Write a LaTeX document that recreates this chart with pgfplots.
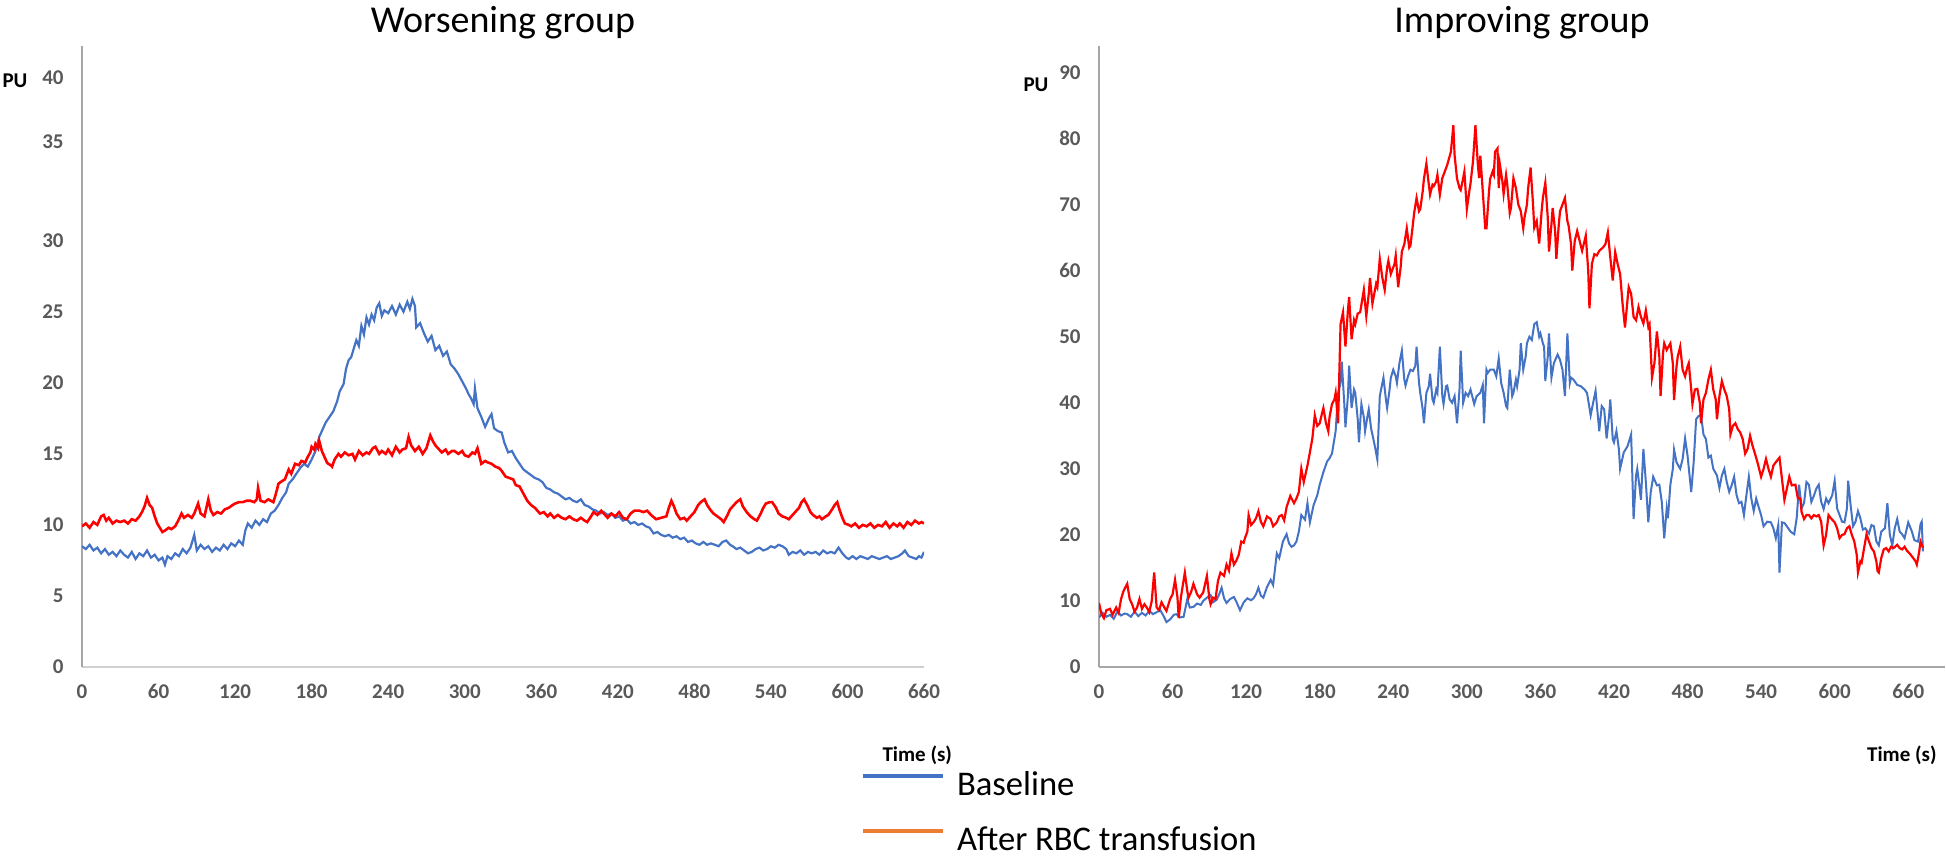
\documentclass[border=0pt]{standalone}
\usepackage{pgfplots}
\usepackage{pgfplotstable}
\pgfplotsset{compat=1.18}
\usepackage{fontspec}
\setmainfont{Carlito}
\definecolor{xblue}{HTML}{4472C4}
\definecolor{xred}{HTML}{FF0000}
\definecolor{xorange}{HTML}{ED7D31}
\definecolor{ticktext}{HTML}{595959}
\definecolor{axgray}{HTML}{A6A6A6}
\definecolor{axlight}{HTML}{D0D0D0}

\pgfplotstableread{
t v
0 8.5
3 8.3
6 8.6
9 8.2
12 8.4
15 8.0
18 8.3
21 7.9
24 8.1
27 7.8
30 8.2
33 7.9
36 7.7
39 8.1
42 7.6
45 8.0
48 7.8
51 8.2
54 7.7
57 7.9
60 7.5
63 7.7
65 7.2
67 7.8
70 7.6
73 8.0
76 7.8
79 8.3
82 8.0
85 8.4
88 9.3
90 8.2
93 8.6
96 8.3
99 8.5
102 8.1
105 8.4
108 8.2
111 8.6
114 8.3
117 8.7
120 8.5
123 8.9
126 8.6
128 9.6
130 10.1
133 9.8
136 10.3
139 10.0
142 10.4
145 10.2
148 10.8
151 11.0
154 11.4
157 11.9
160 12.3
162 12.9
165 13.2
168 13.6
171 14.0
174 14.3
177 14.1
180 14.6
183 15.2
186 16.2
188 16.6
191 17.2
194 17.6
197 18.0
200 18.7
202 19.4
205 19.9
207 21.0
209 21.6
211 21.8
213 22.4
215 23.0
217 22.6
219 24.0
221 23.4
223 24.6
225 24.1
227 24.8
229 24.4
231 25.3
233 25.6
235 24.7
237 25.1
240 24.9
243 25.4
246 24.8
249 25.5
252 25.0
255 25.7
257 25.2
259 25.9
261 25.4
262 23.9
265 24.2
268 23.5
271 22.9
274 23.3
277 22.3
280 22.6
283 21.9
286 22.2
289 21.3
292 21.0
295 20.6
298 20.1
301 19.6
303 19.2
305 18.9
307 18.5
308 19.6
310 18.2
313 17.6
316 16.9
319 17.5
321 17.8
323 16.8
326 16.6
329 16.5
331 15.8
334 15.1
337 15.2
340 14.7
343 14.3
346 13.9
349 13.7
352 13.5
355 13.3
358 13.2
361 13.0
364 12.6
367 12.5
370 12.3
373 12.2
376 12.0
379 11.8
382 11.9
385 11.7
388 11.6
391 11.8
394 11.4
397 11.3
400 11.1
403 11.0
406 10.8
409 10.9
412 10.7
415 10.8
418 10.5
421 10.6
424 10.3
427 10.4
430 10.1
433 10.2
436 10.0
439 10.1
442 9.9
445 9.8
448 9.4
451 9.5
454 9.3
457 9.2
460 9.3
463 9.1
466 9.2
469 9.0
472 9.1
475 8.8
478 8.9
481 8.7
484 8.6
487 8.8
490 8.6
493 8.7
496 8.6
499 8.5
502 8.8
505 8.9
508 8.6
510 8.5
513 8.3
516 8.4
519 8.2
522 8.0
525 8.1
528 8.3
531 8.4
534 8.2
537 8.3
540 8.5
543 8.4
546 8.6
549 8.5
552 8.3
554 7.9
557 8.1
560 8.0
563 8.2
566 7.9
569 8.1
572 8.0
575 8.1
578 7.9
581 8.2
584 8.0
587 8.1
590 8.0
593 8.4
596 8.0
599 7.7
601 7.6
604 7.8
607 7.6
610 7.8
613 7.7
616 7.6
619 7.8
622 7.7
625 7.6
628 7.7
631 7.8
634 7.6
637 7.7
640 7.8
643 8.0
645 8.2
648 7.8
651 7.7
654 7.6
656 7.8
658 7.7
660 8.1
}\LB

\pgfplotstableread{
t v
0 9.9
3 10.1
6 9.8
9 10.2
12 10.0
15 10.6
17 10.7
19 10.3
21 10.5
24 10.1
27 10.3
30 10.2
33 10.3
36 10.1
39 10.4
42 10.3
45 10.6
47 10.9
49 11.3
51 11.9
53 11.4
55 11.2
57 10.6
59 10.1
61 9.8
63 9.5
65 9.6
68 9.8
70 9.7
73 9.9
76 10.4
78 10.8
80 10.5
83 10.7
86 10.5
88 10.8
91 11.5
93 10.8
96 10.6
99 11.8
101 11.0
103 10.7
106 10.9
109 10.8
112 11.1
115 11.2
118 11.4
120 11.5
123 11.6
126 11.6
129 11.7
132 11.7
135 11.6
137 11.8
138 12.6
140 11.7
143 11.6
146 11.8
148 11.7
150 11.6
152 12.2
154 12.9
157 13.1
159 13.2
162 13.9
164 13.6
167 14.3
170 14.2
172 14.5
175 14.4
177 14.8
179 15.1
180 15.5
182 15.3
183 15.7
185 15.4
186 15.9
188 15.2
190 14.8
192 14.4
193 14.3
195 14.2
196 14.1
198 14.6
201 15.0
203 14.8
206 15.1
209 14.9
212 15.0
214 14.6
217 15.2
220 14.9
223 15.1
225 15.0
228 15.4
230 15.5
233 15.0
235 15.2
238 15.0
240 15.3
243 14.9
246 15.5
249 15.1
251 15.3
254 15.4
256 16.2
258 15.6
261 15.2
264 15.5
267 15.0
270 15.4
273 16.3
275 15.9
277 15.6
280 15.3
282 15.1
285 15.3
287 15.0
290 15.2
292 15.2
295 15.0
298 15.2
300 14.9
303 14.8
306 15.1
308 15.0
310 15.4
313 14.3
316 14.5
318 14.4
321 14.3
324 14.1
327 14.0
329 13.8
332 13.4
335 13.3
338 13.2
340 12.8
343 12.7
346 12.2
349 11.7
352 11.4
355 11.2
359 10.8
362 10.9
365 10.6
367 10.8
370 10.5
373 10.7
376 10.5
379 10.4
382 10.6
385 10.4
388 10.3
391 10.5
394 10.3
396 10.2
399 10.6
401 10.9
404 10.7
407 11.0
409 10.8
412 10.5
415 10.8
418 10.6
421 10.9
424 10.5
427 10.4
430 10.8
433 11.0
437 11.0
440 10.9
443 11.0
446 10.7
450 10.4
454 10.5
458 10.6
460 11.2
462 11.7
464 11.3
466 10.8
469 10.4
472 10.5
474 10.3
477 10.6
480 10.9
483 11.4
485 11.6
488 11.8
490 11.4
493 11.0
495 10.8
498 10.6
501 10.4
503 10.2
506 10.7
508 11.1
510 11.3
513 11.6
516 11.8
518 11.3
521 10.9
524 10.6
527 10.4
529 10.3
532 10.8
534 11.2
536 11.5
539 11.6
541 11.6
544 11.2
546 10.8
549 10.6
552 10.5
554 10.4
557 10.7
559 10.9
562 11.2
564 11.6
566 11.8
569 11.3
571 10.9
573 10.7
576 10.5
578 10.6
580 10.4
583 10.6
585 10.7
588 11.1
590 11.4
592 11.6
594 11.0
596 10.5
598 10.1
601 10.0
603 9.9
606 10.1
609 9.8
612 10.0
615 9.9
618 10.1
621 9.8
624 10.0
627 9.9
630 10.2
633 9.8
636 10.1
639 9.9
641 10.1
644 9.8
647 10.2
650 10.0
653 10.3
656 10.1
658 10.2
660 10.1
}\LR

\pgfplotstableread{
t v
0 7.5
3 8.2
6 7.6
9 7.9
12 7.3
15 8.4
18 7.8
21 8.1
23 8.0
26 7.6
29 8.4
32 7.7
35 8.2
38 7.8
41 8.5
44 8.0
47 8.3
50 8.6
53 7.6
55 6.8
58 7.2
61 7.9
63 8.0
66 7.5
69 7.6
72 10.3
74 9.0
77 9.1
80 9.6
83 9.4
85 10.0
88 10.5
91 10.9
93 9.8
96 10.2
98 11.0
100 12.0
102 10.4
104 9.7
107 10.3
110 10.6
112 9.9
115 8.6
118 9.8
121 10.4
124 10.1
126 10.4
128 11.0
130 12.0
132 10.8
134 10.5
137 12.1
140 13.2
142 12.4
145 17.2
147 16.5
150 19.0
153 20.1
155 18.7
157 18.2
159 18.4
161 19.0
163 20.5
165 23.0
168 22.3
170 24.8
172 21.9
175 24.5
178 26.0
180 27.6
183 29.5
186 31.1
188 31.6
190 32.3
193 35.7
195 41.5
197 43.0
198 46.2
200 40.0
201 36.3
203 41.0
204 45.6
206 39.2
208 42.0
209 41.5
211 37.5
212 34.0
214 39.8
216 37.8
217 35.7
219 38.0
220 39.0
222 36.0
223 35.2
225 33.4
227 31.4
229 41.0
232 43.8
234 40.5
235 39.2
237 42.0
238 43.8
240 45.0
242 44.0
243 43.0
245 46.0
247 47.9
249 43.5
250 42.6
252 44.0
254 45.0
256 44.8
258 45.6
259 48.5
261 43.0
262 41.5
264 39.0
265 36.9
267 41.5
269 42.5
270 44.4
272 40.5
273 40.0
275 42.0
276 41.5
278 48.5
280 41.0
281 39.8
283 42.5
284 42.6
286 40.5
288 40.0
290 41.0
292 36.9
294 42.0
295 47.9
297 40.0
299 41.5
301 41.0
303 42.0
306 39.8
308 41.0
311 41.5
313 42.7
314 36.9
316 45.0
317 44.5
319 45.0
322 45.0
324 44.0
326 46.7
328 43.0
330 41.5
332 39.5
333 39.2
335 45.0
337 41.0
338 41.5
340 43.5
341 42.5
343 45.0
344 49.0
346 45.0
348 47.0
349 49.0
351 50.0
353 49.5
355 51.9
357 52.2
359 50.0
360 50.5
362 49.0
363 48.5
364 43.3
366 47.0
367 50.5
369 43.8
371 46.0
374 47.3
376 46.5
378 45.0
380 41.0
382 50.5
384 43.0
385 43.8
387 43.5
390 42.7
393 42.5
396 42.0
398 41.5
401 38.1
403 40.0
405 41.8
408 35.7
410 39.5
412 39.0
414 34.6
416 38.0
417 40.5
419 34.5
420 34.0
422 35.7
424 33.0
425 30.0
428 32.5
431 33.4
434 35.2
436 22.4
438 29.0
439 30.0
441 27.0
442 25.3
444 33.0
446 28.0
448 21.9
450 26.5
452 28.8
455 27.5
457 27.6
459 25.0
461 19.5
463 24.0
464 22.5
466 27.6
468 30.0
469 32.9
471 31.0
474 30.0
476 31.5
478 34.6
480 32.0
483 26.5
485 31.0
487 37.5
489 38.0
491 38.1
493 35.2
495 34.5
497 31.7
499 32.0
501 30.0
504 29.0
506 27.1
508 29.0
510 30.0
512 28.0
514 26.5
516 27.5
518 28.8
520 26.0
522 24.8
524 25.0
526 23.0
528 26.0
530 28.8
532 25.5
534 23.6
536 25.5
538 24.2
540 23.0
542 21.3
545 22.0
548 21.9
550 21.0
552 19.5
554 21.5
555 14.3
557 21.9
559 21.8
561 21.3
564 20.5
567 20.1
569 22.5
571 27.6
573 24.0
575 24.8
577 28.0
579 27.6
581 25.0
583 25.9
585 27.0
587 27.6
589 25.0
591 23.9
593 25.5
595 24.8
598 26.0
600 28.2
602 24.0
604 23.0
606 22.0
608 21.9
610 24.0
611 28.2
613 24.5
615 21.3
617 22.0
619 23.6
621 22.5
623 20.8
625 21.0
628 20.2
630 21.5
632 21.3
634 19.0
636 18.4
638 20.5
641 21.0
643 24.8
645 20.0
647 18.4
649 21.0
651 22.4
653 20.5
655 20.1
657 19.5
660 21.9
663 20.5
665 19.2
668 19.0
670 21.6
671 22.0
672 17.5
}\RB

\pgfplotstableread{
t v
0 9.7
2 8.0
4 7.4
6 8.6
9 8.8
11 7.9
14 9.0
16 8.2
18 10.3
20 11.5
23 12.6
25 10.3
27 9.5
29 8.4
31 9.0
33 10.3
35 8.8
37 9.5
39 9.0
41 8.3
43 10.0
45 14.3
47 9.0
49 8.6
51 9.8
53 9.1
55 8.5
58 10.3
60 11.0
62 13.2
64 10.5
65 7.4
67 10.8
70 14.3
72 11.5
73 10.5
75 11.3
77 12.6
80 11.0
82 10.5
85 11.3
88 13.8
90 10.3
91 9.5
93 10.5
95 10.3
97 13.0
99 14.3
102 13.8
104 15.5
106 14.6
108 17.2
110 15.5
112 16.1
114 17.0
116 19.0
118 18.8
119 19.5
121 20.5
122 23.0
124 21.5
126 21.9
128 22.5
130 23.6
132 22.0
134 21.3
137 22.8
140 22.4
142 21.3
145 21.9
147 22.8
149 23.0
151 22.2
153 24.2
156 25.9
159 24.8
161 25.5
163 26.5
165 30.0
167 28.0
170 30.5
172 32.5
174 34.6
176 38.1
178 36.5
180 36.9
182 38.5
183 39.2
185 37.0
187 35.7
188 37.8
190 39.8
192 40.5
193 41.5
195 36.9
197 51.9
199 53.7
201 48.5
203 54.0
204 56.0
206 49.6
208 52.5
209 51.9
211 53.5
213 53.7
216 57.1
218 53.1
220 56.5
221 58.9
223 55.0
224 56.0
226 58.0
227 57.5
229 61.8
231 59.0
233 57.1
235 60.5
236 61.5
238 59.5
239 60.0
241 61.0
242 62.3
244 57.5
246 60.5
247 62.9
249 64.0
251 66.4
253 63.5
254 63.8
256 67.0
257 68.7
259 71.0
261 69.0
262 69.3
264 72.0
265 73.9
267 76.2
269 73.0
270 71.5
272 73.0
273 72.8
275 73.5
276 74.5
278 71.5
280 74.0
282 75.0
284 76.0
287 78.0
289 82.0
290 77.5
292 73.9
294 72.5
295 72.2
297 74.0
298 75.0
300 69.3
302 72.0
303 73.2
305 76.5
307 82.0
309 76.0
310 74.0
311 77.4
313 72.0
315 66.4
316 66.4
318 71.8
319 73.9
321 75.0
322 74.5
323 78.0
325 78.5
326 72.5
327 76.0
329 73.5
330 71.6
332 74.5
333 73.0
335 68.7
336 69.5
338 74.0
340 72.5
342 70.0
344 69.0
346 66.4
347 68.0
349 70.0
350 72.5
352 75.6
354 70.0
355 66.5
357 67.5
359 64.1
361 69.0
362 71.0
364 73.3
366 68.0
367 62.9
369 67.0
370 69.5
372 66.0
373 61.8
375 67.0
376 69.0
378 70.0
380 71.0
382 67.5
383 66.8
385 64.0
386 60.0
388 64.5
390 66.0
392 64.5
394 63.0
396 64.5
397 65.3
399 60.0
400 54.3
402 61.0
404 62.5
406 62.3
408 63.0
411 63.5
413 64.0
415 65.8
417 62.0
419 58.5
421 62.8
423 61.0
425 59.5
427 55.0
429 51.4
431 55.5
432 57.5
434 56.5
436 53.0
438 52.5
440 54.5
442 53.0
444 52.0
446 54.0
448 51.5
449 51.9
451 43.8
453 46.0
455 50.8
457 47.0
458 41.0
460 47.5
461 49.0
463 48.0
466 49.0
468 46.0
469 40.4
471 45.5
472 47.0
474 48.5
476 45.0
478 44.0
480 45.5
481 46.0
483 42.0
484 39.8
486 42.0
488 42.1
490 40.0
491 36.9
493 40.5
495 41.5
497 43.5
499 45.0
501 42.0
503 40.5
504 37.5
506 41.0
508 43.3
510 42.0
512 41.0
514 39.0
515 35.2
517 36.5
519 36.9
521 36.0
523 35.5
525 34.5
527 32.3
529 33.0
531 35.0
533 33.5
535 32.3
537 31.0
540 28.8
542 30.0
544 31.5
546 30.0
548 28.8
550 30.5
552 31.0
555 31.7
557 28.5
559 25.3
561 27.0
563 28.8
565 27.5
568 27.6
570 25.5
572 25.5
573 23.5
575 22.4
577 23.0
579 23.0
581 22.5
583 23.0
585 22.8
587 23.0
589 22.0
591 18.4
593 20.0
595 23.0
597 22.5
600 21.9
602 21.0
604 19.5
606 20.0
608 20.1
610 21.0
612 21.3
614 20.0
616 19.0
618 17.0
619 14.3
621 16.0
622 15.8
624 18.0
626 20.1
628 19.0
630 18.0
632 17.5
634 16.0
635 14.5
636 14.3
638 16.5
640 17.8
642 18.0
644 17.5
646 18.2
648 18.0
651 18.5
653 18.0
655 17.8
657 18.2
659 17.6
662 17.0
664 16.5
666 16.0
667 15.5
669 17.5
670 19.0
672 18.1
}\RR

\pgfplotsset{
  panel/.style={
    scale only axis, height=310.5pt, ymin=0,
    axis x line*=bottom, axis y line*=left,
    axis line style={-, line width=1.1pt},
    major tick length=0pt,
    tick label style={font=\bfseries\fontsize{10.5}{12}\selectfont, text=ticktext},
    /pgf/number format/assume math mode=true,
    xtick={0,60,...,660},
    xticklabel style={inner sep=0pt, yshift=-8.5pt},
    yticklabel style={inner sep=0pt, xshift=-9pt},
    title style={font=\fontsize{19}{22}\selectfont, at={(0.5,1.002)}, anchor=base},
    xlabel={Time (s)},
    ylabel={PU},
    xlabel style={font=\bfseries\fontsize{10.5}{12}\selectfont, anchor=center},
    ylabel style={font=\bfseries\fontsize{10.5}{12}\selectfont, rotate=-90, anchor=center},
  }
}

\begin{document}
\begin{tikzpicture}
\useasboundingbox (0pt,0pt) rectangle (973pt,429.5pt);
\begin{axis}[panel,
  at={(41pt,96pt)}, anchor=south west,
  width=421pt, xmin=0, xmax=660, ymax=43.7,
  ytick={0,5,10,15,20,25,30,37,41.5},
  yticklabels={0,5,10,15,20,25,30,35,40},
  x axis line style={draw=axlight},
  y axis line style={draw=axgray},
  title={Worsening group},
  xlabel style={at={(0.992,-0.1417)}},
  ylabel style={at={(-0.0796,0.9436)}},
  legend style={draw=none, fill=none, at={(0.9176,-0.163)}, anchor=north west,
    font=\fontsize{17.3}{20}\selectfont, row sep=16pt, column sep=0pt,
    nodes={inner sep=0pt, text height=11.5pt, text depth=0pt, anchor=west}},
  legend cell align=left,
  legend image code/.code={\draw[#1] (0pt,4pt) -- (40pt,4pt) (46pt,4pt);},
]
\addlegendimage{xblue, line width=2pt}
\addlegendentry{Baseline}
\addlegendimage{xorange, line width=2pt}
\addlegendentry{After RBC transfusion}
\addplot[xblue, line width=1.1pt, forget plot] table[x=t,y=v] {\LB};
\addplot[xred, line width=1.3pt, forget plot] table[x=t,y=v] {\LR};
\end{axis}

\begin{axis}[panel,
  at={(549.5pt,96pt)}, anchor=south west,
  width=423pt, xmin=0, xmax=690, ymax=94,
  ytick={0,10,...,90},
  axis line style={draw=axgray},
  title={Improving group},
  xlabel style={at={(0.949,-0.1417)}},
  ylabel style={at={(-0.0745,0.937)}},
]
\addplot[xblue, line width=1pt] table[x=t,y=v] {\RB};
\addplot[xred, line width=1.1pt] table[x=t,y=v] {\RR};
\end{axis}
\end{tikzpicture}
\end{document}
